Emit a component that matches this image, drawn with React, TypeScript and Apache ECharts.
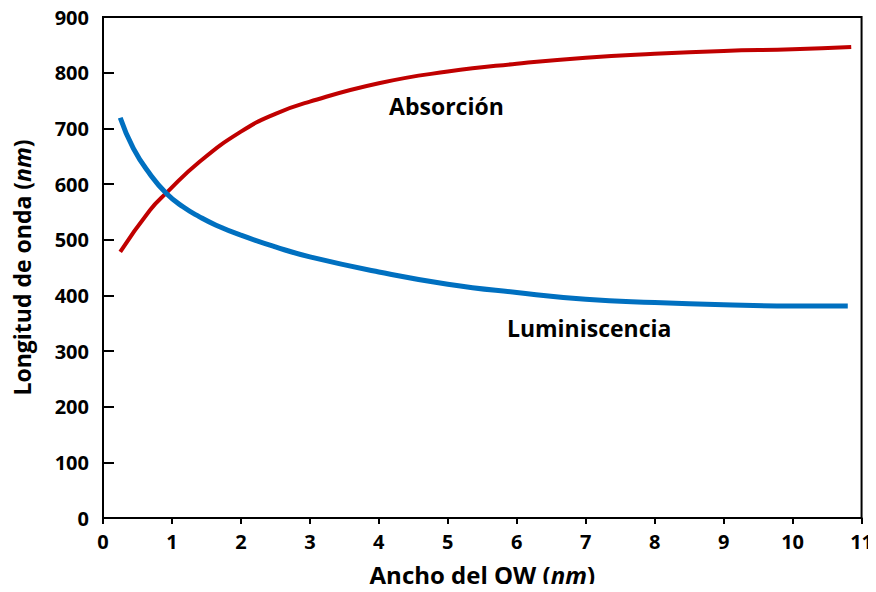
import React, { useEffect, useRef } from "react";
import * as echarts from "echarts";

const absorcion: [number, number][] = [
  [0.25, 478], [0.68, 553], [0.92, 584], [1.4, 640], [2, 694], [2.5, 726],
  [3, 748], [4, 781], [5, 802], [6, 816], [7, 827], [8, 834], [9, 839],
  [10, 842], [10.85, 846],
];
const luminiscencia: [number, number][] = [
  [0.25, 719], [0.44, 664], [0.68, 618], [0.92, 583], [1.16, 559], [1.4, 541],
  [1.64, 526], [2, 508], [2.5, 487], [3, 469], [4, 442], [5, 420], [6, 405],
  [7, 393], [8, 387], [9, 383], [10, 381], [10.8, 381],
];
const xTicks = { min: 0, max: 11, interval: 1 };
const yTicks = { min: 0, max: 900, interval: 100 };
const labels = [
  { text: "Absorción", x: 4.98, y: 740 },
  { text: "Luminiscencia", x: 7.05, y: 341 },
];

const FONT = "'Open Sans', Lato, sans-serif";

export default function App() {
  const ref = useRef<HTMLDivElement>(null);
  useEffect(() => {
    if (!ref.current) return;
    const chart = echarts.init(ref.current, null, { renderer: "svg" });
    const labelStyle = { color: "#000", fontFamily: FONT, fontWeight: "bold", fontSize: 20 };
    const rich = (size: number) => ({
      b: { fontFamily: FONT, fontWeight: "bold", fontSize: size, color: "#000" },
      i: { fontFamily: FONT, fontWeight: "bold", fontStyle: "italic", fontSize: size, color: "#000" },
    });
    chart.setOption({
      animation: false,
      backgroundColor: "#fff",
      grid: {
        left: 103, top: 17, right: 14, bottom: 74,
        show: true, borderColor: "#000", borderWidth: 2,
      },
      xAxis: {
        type: "value",
        min: xTicks.min, max: xTicks.max, interval: xTicks.interval,
        axisLine: { show: true, lineStyle: { color: "#000", width: 2 } },
        axisTick: { show: true, inside: false, length: 6, lineStyle: { color: "#000", width: 2 } },
        axisLabel: { ...labelStyle, margin: 13 },
        splitLine: { show: false },
        name: "{b|Ancho del QW (}{i|nm}{b|)}",
        nameLocation: "middle",
        nameGap: 44,
        nameTextStyle: { rich: rich(24) },
      },
      yAxis: {
        type: "value",
        min: yTicks.min, max: yTicks.max, interval: yTicks.interval,
        axisLine: { show: true, lineStyle: { color: "#000", width: 2 } },
        axisTick: { show: true, inside: true, length: 11, lineStyle: { color: "#000", width: 2 } },
        axisLabel: { ...labelStyle, margin: 14 },
        splitLine: { show: false },
        name: "{b|Longitud de onda (}{i|nm}{b|)}",
        nameLocation: "middle",
        nameGap: 70,
        nameTextStyle: { rich: rich(23) },
      },
      series: [
        {
          type: "line",
          name: "Absorción",
          data: absorcion,
          smooth: 0.5,
          showSymbol: false,
          lineStyle: { color: "#C00000", width: 4 },
        },
        {
          type: "line",
          name: "Luminiscencia",
          data: luminiscencia,
          smooth: 0.5,
          showSymbol: false,
          lineStyle: { color: "#0070C0", width: 5 },
        },
        {
          type: "scatter",
          data: labels.map((l) => ({ value: [l.x, l.y], name: l.text })),
          symbolSize: 0,
          itemStyle: { opacity: 1 },
          label: {
            show: true,
            position: "inside",
            formatter: (p: any) => p.name,
            fontFamily: FONT, fontWeight: "bold", fontSize: 23, color: "#000",
            opacity: 1,
          },
          silent: true,
        },
      ],
    });
    return () => chart.dispose();
  }, []);
  return <div ref={ref} style={{ width: 876, height: 592, margin: -8 }} />;
}
